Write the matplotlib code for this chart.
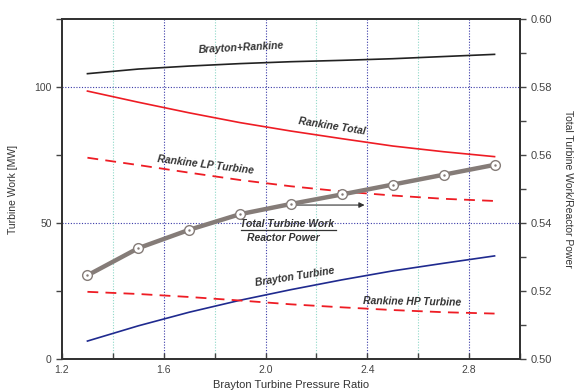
import matplotlib.pyplot as plt
from matplotlib.ticker import MultipleLocator

plt.rcParams['font.family'] = ['Liberation Sans', 'DejaVu Sans']

ratio = [1.3, 1.5, 1.7, 1.9, 2.1, 2.3, 2.5, 2.7, 2.9]
brayton_rankine = [104.9, 106.6, 107.7, 108.6, 109.3, 109.8, 110.4, 111.2, 112.0]
rankine_total = [98.5, 94.4, 90.5, 86.9, 83.8, 81.0, 78.3, 76.2, 74.4]
rankine_lp = [74.0, 71.3, 68.5, 65.8, 63.5, 61.6, 60.1, 58.9, 58.1]
brayton = [6.6, 12.2, 17.2, 21.6, 25.5, 29.1, 32.4, 35.2, 37.9]
rankine_hp = [24.7, 23.9, 22.8, 21.5, 20.1, 19.0, 18.0, 17.2, 16.7]
work_per_power = [0.5246, 0.5326, 0.5380, 0.5426, 0.5456, 0.5484, 0.5513, 0.5542, 0.5571]

fig = plt.figure(figsize=(5.78, 3.92), dpi=100)
ax = fig.add_axes([62/578, 1-359/392, (520-62)/578, (359-19)/392])
ax2 = ax.twinx()

# grid lines drawn by hand on the left axes
for xv in [1.6, 2.0, 2.4, 2.8]:
    ax.axvline(xv, color='#3a3aa8', ls=(0, (1, 1.5)), lw=0.8, zorder=0)
for xv in [1.4, 1.8, 2.2, 2.6]:
    ax.axvline(xv, color='#8fd8c8', ls=(0, (1, 1.5)), lw=0.8, zorder=0)
for yv in [50, 100]:
    ax.axhline(yv, color='#3a3aa8', ls=(0, (1, 1.5)), lw=0.8, zorder=0)

ax.plot(ratio, brayton_rankine, color='#222222', lw=1.2)
ax.plot(ratio, rankine_total, color='#ee1c24', lw=1.2)
ax.plot(ratio, rankine_lp, color='#ee1c24', lw=1.3, ls=(0, (6, 4)))
ax.plot(ratio, brayton, color='#1f2a8f', lw=1.2)
ax.plot(ratio, rankine_hp, color='#ee1c24', lw=1.3, ls=(0, (6, 4)))

ax2.plot(ratio, work_per_power, color='#857c78', lw=3.2, marker='o', ms=7,
         mfc='white', mec='#857c78', mew=1.0, zorder=3)
ax2.plot(ratio, work_per_power, ls='none', marker='.', ms=1.5, color='#857c78', zorder=4)

ax.set_xlim(1.2, 3.0)
ax.set_ylim(0, 125)
ax2.set_ylim(0.50, 0.60)

ax.set_xticks([1.2, 1.6, 2.0, 2.4, 2.8])
ax.set_xticklabels(['1.2', '1.6', '2.0', '2.4', '2.8'])
ax.xaxis.set_minor_locator(MultipleLocator(0.2))
ax.set_yticks([0, 50, 100])
ax.yaxis.set_minor_locator(MultipleLocator(25))
ax2.set_yticks([0.50, 0.52, 0.54, 0.56, 0.58, 0.60])
ax2.set_yticklabels(['0.50', '0.52', '0.54', '0.56', '0.58', '0.60'])
ax2.yaxis.set_minor_locator(MultipleLocator(0.01))

ax.tick_params(axis='x', which='both', direction='in', length=4, width=1, colors='#444444',
               labelsize=7.5, pad=4)
ax.tick_params(axis='y', which='both', direction='out', length=4, width=1, colors='#444444',
               labelsize=7.5)
ax2.tick_params(axis='y', which='both', direction='out', length=4, width=1, colors='#444444',
                labelsize=8)
for a in (ax, ax2):
    for s in a.spines.values():
        s.set_color('#333333')
        s.set_linewidth(1.3)

ax.set_xlabel('Brayton Turbine Pressure Ratio', fontsize=8, color='#333333', labelpad=4)
ax.set_ylabel('Turbine Work [MW]', fontsize=7.5, color='#333333', labelpad=12)
ax2.set_ylabel('Total Turbine Work/Reactor Power', fontsize=7.5, color='#333333',
               rotation=270, labelpad=15)

lab = dict(fontsize=7.5, fontweight='bold', fontstyle='italic', color='#333333',
           ha='center', va='center')
ax.text(1.906, 114.3, 'Brayton+Rankine', rotation=3, **lab)
ax.text(2.26, 85.7, 'Rankine Total', rotation=-9, **lab)
ax.text(1.765, 71.5, 'Rankine LP Turbine', rotation=-7, **lab)
ax.text(2.086, 49.6, 'Total Turbine Work', **lab)
ax.plot([1.902, 2.275], [47.4, 47.4], color='#333333', lw=0.9)
ax.text(2.07, 44.4, 'Reactor Power', **lab)
ax.text(2.114, 30.3, 'Brayton Turbine', rotation=9, **lab)
ax.text(2.577, 21.1, 'Rankine HP Turbine', rotation=-1, **lab)
ax.annotate('', xy=(2.40, 56.6), xytext=(2.11, 56.6),
            arrowprops=dict(arrowstyle='-|>', color='#333333', lw=0.8, mutation_scale=8))

fig.savefig('out.png', dpi=100)
